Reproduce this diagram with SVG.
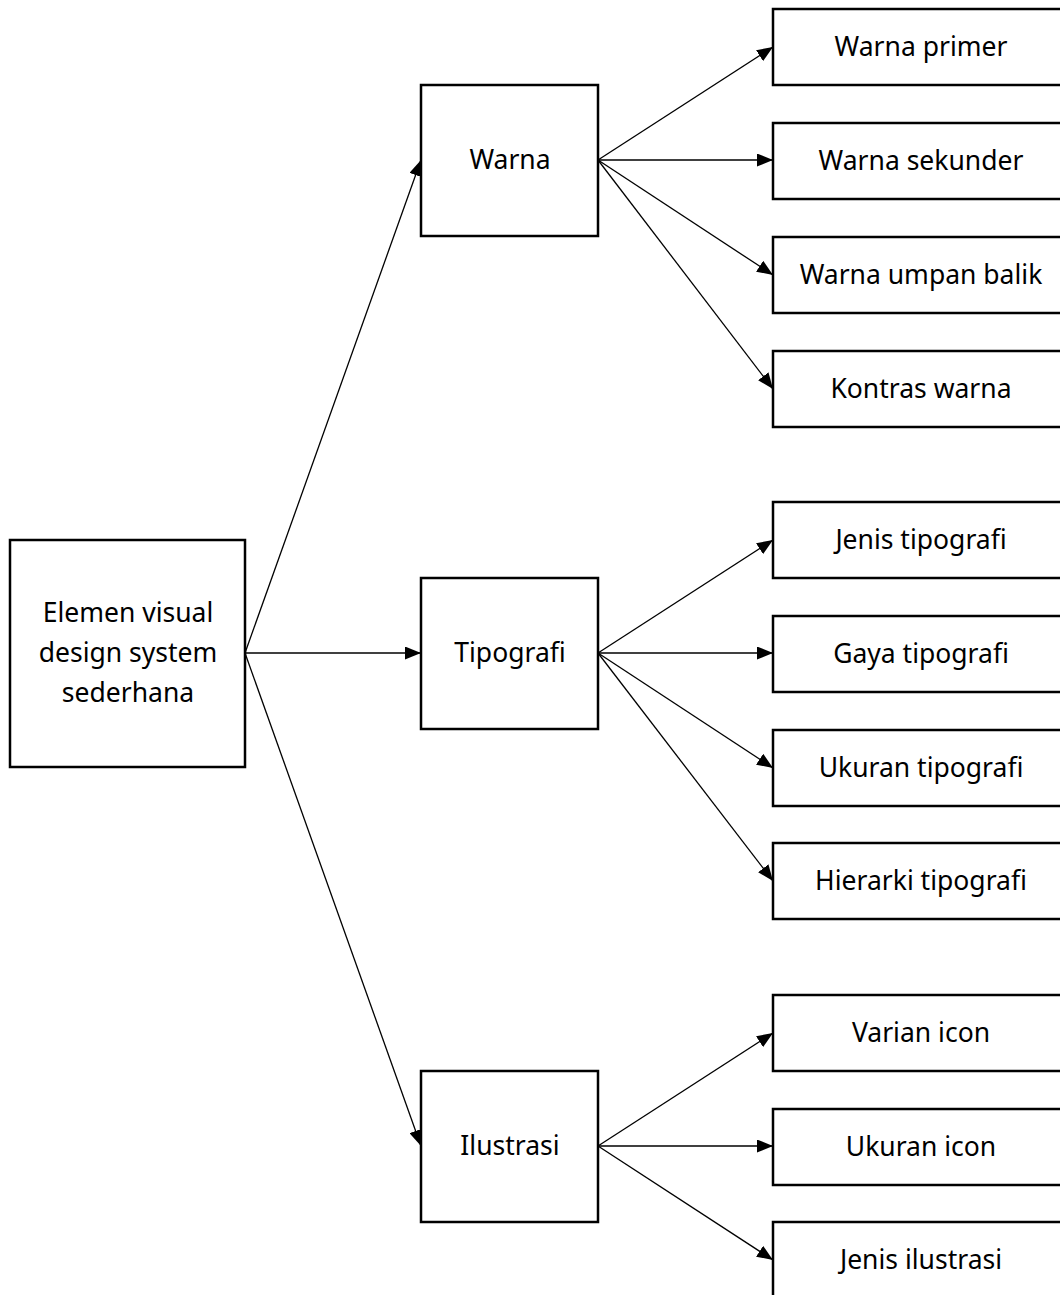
<svg xmlns="http://www.w3.org/2000/svg" width="1060" height="1295" viewBox="0 0 1060 1295">
<style>
.box{fill:#fff;stroke:#000;stroke-width:2.5}
.lbl{font-family:"Noto Sans","Open Sans",sans-serif;font-size:26.5px;fill:#000;text-anchor:middle}
.edge{stroke:#000;stroke-width:1.3;fill:none;marker-end:url(#ah)}
</style>
<defs>
<marker id="ah" markerWidth="16" markerHeight="13" refX="16" refY="6.5" orient="auto" markerUnits="userSpaceOnUse">
<path d="M0,0 L16,6.5 L0,13 Z" fill="#000"/>
</marker>
</defs>
<rect width="1060" height="1295" fill="#fff"/>
<g id="connectors">
<line class="edge" x1="245" y1="653" x2="421" y2="160"/>
<line class="edge" x1="245" y1="653" x2="421" y2="653"/>
<line class="edge" x1="245" y1="653" x2="421" y2="1146"/>
<line class="edge" x1="598" y1="160" x2="773" y2="47"/>
<line class="edge" x1="598" y1="160" x2="773" y2="160"/>
<line class="edge" x1="598" y1="160" x2="773" y2="275"/>
<line class="edge" x1="598" y1="160" x2="773" y2="389"/>
<line class="edge" x1="598" y1="653" x2="773" y2="540"/>
<line class="edge" x1="598" y1="653" x2="773" y2="653"/>
<line class="edge" x1="598" y1="653" x2="773" y2="768"/>
<line class="edge" x1="598" y1="653" x2="773" y2="881"/>
<line class="edge" x1="598" y1="1146" x2="773" y2="1033"/>
<line class="edge" x1="598" y1="1146" x2="773" y2="1146"/>
<line class="edge" x1="598" y1="1146" x2="773" y2="1260"/>
</g>
<g id="root"><rect class="box" x="10" y="540" width="235" height="227"/>
<text class="lbl" x="128" y="622">Elemen visual</text>
<text class="lbl" x="128" y="662">design system</text>
<text class="lbl" x="128" y="702">sederhana</text></g>
<g id="warna"><rect class="box" x="421" y="85" width="177" height="151"/><text class="lbl" x="510" y="169">Warna</text></g>
<g id="tipografi"><rect class="box" x="421" y="578" width="177" height="151"/><text class="lbl" x="510" y="662">Tipografi</text></g>
<g id="ilustrasi"><rect class="box" x="421" y="1071" width="177" height="151"/><text class="lbl" x="510" y="1155">Ilustrasi</text></g>
<g id="warna-primer"><rect class="box" x="773" y="9" width="300" height="76"/><text class="lbl" x="921" y="56">Warna primer</text></g>
<g id="warna-sekunder"><rect class="box" x="773" y="123" width="300" height="76"/><text class="lbl" x="921" y="170">Warna sekunder</text></g>
<g id="warna-umpan-balik"><rect class="box" x="773" y="237" width="300" height="76"/><text class="lbl" x="921" y="284">Warna umpan balik</text></g>
<g id="kontras-warna"><rect class="box" x="773" y="351" width="300" height="76"/><text class="lbl" x="921" y="398">Kontras warna</text></g>
<g id="jenis-tipografi"><rect class="box" x="773" y="502" width="300" height="76"/><text class="lbl" x="921" y="549">Jenis tipografi</text></g>
<g id="gaya-tipografi"><rect class="box" x="773" y="616" width="300" height="76"/><text class="lbl" x="921" y="663">Gaya tipografi</text></g>
<g id="ukuran-tipografi"><rect class="box" x="773" y="730" width="300" height="76"/><text class="lbl" x="921" y="777">Ukuran tipografi</text></g>
<g id="hierarki-tipografi"><rect class="box" x="773" y="843" width="300" height="76"/><text class="lbl" x="921" y="890">Hierarki tipografi</text></g>
<g id="varian-icon"><rect class="box" x="773" y="995" width="300" height="76"/><text class="lbl" x="921" y="1042">Varian icon</text></g>
<g id="ukuran-icon"><rect class="box" x="773" y="1109" width="300" height="76"/><text class="lbl" x="921" y="1156">Ukuran icon</text></g>
<g id="jenis-ilustrasi"><rect class="box" x="773" y="1222" width="300" height="76"/><text class="lbl" x="921" y="1269">Jenis ilustrasi</text></g>
</svg>
